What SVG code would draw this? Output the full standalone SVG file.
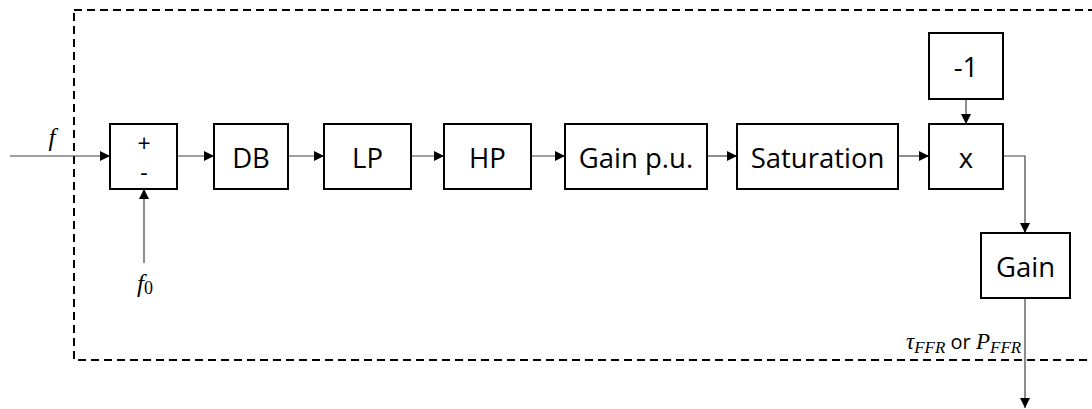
<svg xmlns="http://www.w3.org/2000/svg" width="1092" height="409" viewBox="0 0 1092 409">
<style>
.box{fill:#fff;stroke:#000;stroke-width:2}
.lbl{font-family:"Open Sans",sans-serif;font-size:27.5px;fill:#000;text-anchor:middle;dominant-baseline:central}
.sm{font-family:"Open Sans",sans-serif;font-size:23px;fill:#000;text-anchor:middle;dominant-baseline:central}
.math{font-family:"Liberation Serif",serif;font-style:italic;fill:#000}
.con{fill:none;stroke:#404040;stroke-width:1.2}
</style>
<defs>
<marker id="ah" viewBox="0 0 10 10" refX="10" refY="5" markerWidth="10" markerHeight="10" markerUnits="userSpaceOnUse" orient="auto">
<path d="M0,0 L10,5 L0,10 Z" fill="#000"/>
</marker>
</defs>
<rect x="74" y="10" width="1040" height="350" fill="none" stroke="#000" stroke-width="2" stroke-dasharray="8,5"/>
<g id="connectors">
<path class="con" d="M10,156 H110" marker-end="url(#ah)"/>
<path class="con" d="M144,263 V189" marker-end="url(#ah)"/>
<path class="con" d="M177,156 H214" marker-end="url(#ah)"/>
<path class="con" d="M288,156 H324" marker-end="url(#ah)"/>
<path class="con" d="M411,156 H444" marker-end="url(#ah)"/>
<path class="con" d="M531,156 H565" marker-end="url(#ah)"/>
<path class="con" d="M707,156 H737" marker-end="url(#ah)"/>
<path class="con" d="M898,156 H929" marker-end="url(#ah)"/>
<path class="con" d="M966,99 V124" marker-end="url(#ah)"/>
<path class="con" d="M1003,156 H1025 V233" marker-end="url(#ah)"/>
<path class="con" d="M1025,298 V408" marker-end="url(#ah)"/>
</g>
<g id="sum"><rect class="box" x="110" y="124" width="67" height="65"/><text class="sm" x="144" y="143">+</text><text class="sm" x="144" y="172">-</text></g>
<g id="db"><rect class="box" x="214" y="124" width="74" height="65"/><text class="lbl" x="251" y="157">DB</text></g>
<g id="lp"><rect class="box" x="324" y="124" width="87" height="65"/><text class="lbl" x="367.5" y="157">LP</text></g>
<g id="hp"><rect class="box" x="444" y="124" width="87" height="65"/><text class="lbl" x="487.5" y="157">HP</text></g>
<g id="gainpu"><rect class="box" x="565" y="124" width="142" height="65"/><text class="lbl" x="636" y="157">Gain p.u.</text></g>
<g id="sat"><rect class="box" x="737" y="124" width="161" height="65"/><text class="lbl" x="817.5" y="157">Saturation</text></g>
<g id="mul"><rect class="box" x="929" y="124" width="74" height="65"/><text class="lbl" x="966" y="157">x</text></g>
<g id="neg"><rect class="box" x="929" y="33" width="74" height="66"/><text class="lbl" x="966" y="66">-1</text></g>
<g id="gain"><rect class="box" x="981" y="233" width="89" height="65"/><text class="lbl" x="1025.5" y="266">Gain</text></g>
<g id="labels">
<text class="math" x="52" y="146" font-size="25" text-anchor="middle">f</text>
<text class="math" x="145" y="292" font-size="25" text-anchor="middle">f<tspan font-style="normal" font-size="18" dy="2">0</tspan></text>
<text x="906" y="349" font-size="23"><tspan class="math">τ</tspan><tspan class="math" font-size="17" dy="4">FFR</tspan><tspan font-family="Open Sans,sans-serif" font-size="20" dy="-4"> or </tspan><tspan class="math">P</tspan><tspan class="math" font-size="17" dy="4">FFR</tspan></text>
</g>
</svg>
